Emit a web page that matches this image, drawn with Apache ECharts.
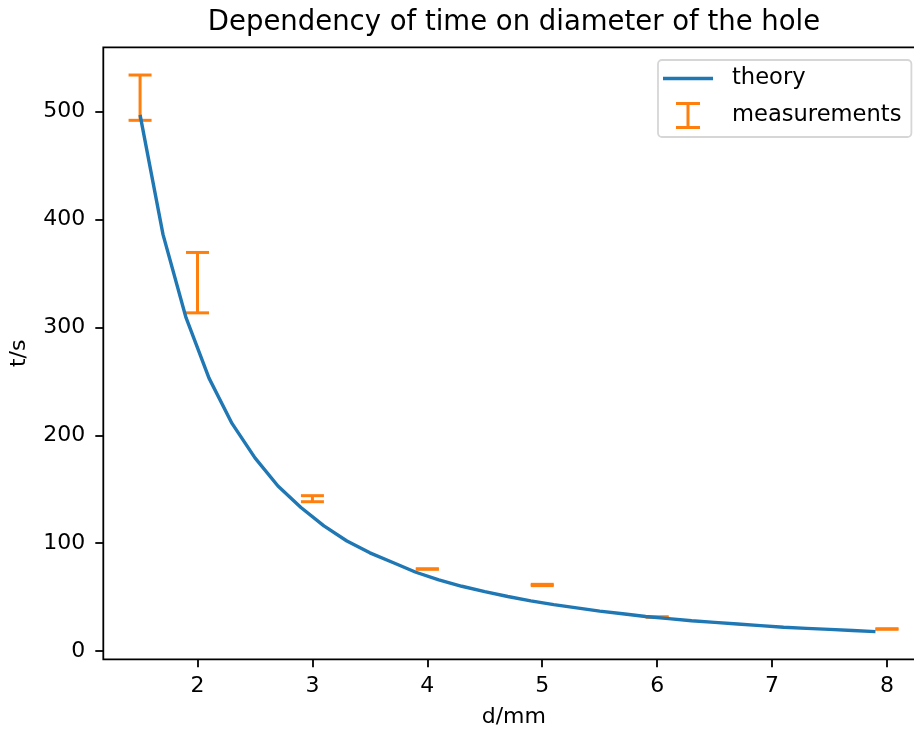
<!DOCTYPE html>
<html>
<head>
<meta charset="utf-8">
<script src="https://cdn.jsdelivr.net/npm/echarts@6/dist/echarts.min.js"></script>
<style>
  html, body { margin: 0; padding: 0; background: #fff; }
  #chart { width: 914px; height: 729px; }
</style>
</head>
<body>
<div id="chart"></div>
<script>
// theory curve, sampled every 0.2 mm
const theoryD = [1.5, 1.7, 1.9, 2.1, 2.3, 2.5, 2.7, 2.9, 3.1, 3.3, 3.5, 3.7, 3.9, 4.1, 4.3, 4.5, 4.7,
  4.9, 5.1, 5.3, 5.5, 5.7, 5.9, 6.1, 6.3, 6.5, 6.7, 6.9, 7.1, 7.3, 7.5, 7.7, 7.9];
const theoryT = [497, 386, 309, 253, 211, 179, 153, 133, 116, 102, 91, 82, 73, 66, 60, 55, 50.5,
  46.5, 43, 40, 37, 34.5, 32, 30, 28, 26.5, 25, 23.5, 22, 21, 20, 19, 18];

// measurements with error
const measD = [1.5, 2, 3, 4, 5, 6, 8];
const measT = [513, 341.5, 141.2, 76, 61.2, 31.5, 20.4];
const measErr = [21, 28, 2.8, 0.2, 0.6, 0.2, 0.2];

const xTicks = [2, 3, 4, 5, 6, 7, 8];
const yTicks = [0, 100, 200, 300, 400, 500];

const font = 'DejaVu Sans';
const blue = '#1f77b4';
const orange = '#ff7f0e';

let myChart = echarts.init(document.getElementById('chart'));

let option = {
    animation: false,
    backgroundColor: '#fff',
    title: {
        text: 'Dependency of time on diameter of the hole',
        left: 514,
        textAlign: 'center',
        top: 9,
        padding: 0,
        textStyle: { fontFamily: font, fontSize: 27.5, fontWeight: 'normal', color: '#000' }
    },
    legend: {
        orient: 'vertical',
        left: 658,
        top: 60,
        padding: [7, 10, 8, 5],
        itemWidth: 50,
        itemHeight: 27,
        itemGap: 12,
        backgroundColor: 'rgba(255,255,255,0.8)',
        borderColor: '#d6d6d6',
        borderWidth: 1.8,
        borderRadius: 4,
        textStyle: { fontFamily: font, fontSize: 22.6, color: '#000', padding: [0, 0, 0, 14] },
        data: [{
            name: 'theory',
            icon: 'path://M0,0H50V3.4H0Z',
            itemStyle: { color: blue }
        }, {
            name: 'measurements',
            icon: 'path://M0,0H24V3H0ZM10.5,0H13.5V27H10.5ZM0,24H24V27H0Z',
            itemStyle: { color: orange }
        }]
    },
    grid: {
        left: 103.3,
        top: 47.3,
        width: 821,
        bottom: 69.7,
        show: true,
        borderColor: '#000',
        borderWidth: 1.8,
        containLabel: false,
        outerBoundsMode: 'none'
    },
    xAxis: {
        type: 'value',
        min: 1.18,
        max: 8.325,
        name: 'd/mm',
        nameLocation: 'middle',
        nameGap: 47,
        nameTextStyle: { fontFamily: font, fontSize: 22, color: '#000' },
        axisLine: { show: false, onZero: false },
        axisTick: { show: true, length: 8, customValues: xTicks, lineStyle: { color: '#000', width: 1.8 } },
        axisLabel: { customValues: xTicks, margin: 16, fontFamily: font, fontSize: 22, color: '#000' },
        splitLine: { show: false }
    },
    yAxis: {
        type: 'value',
        min: -7.7,
        max: 559.7,
        name: 't/s',
        nameLocation: 'middle',
        nameGap: 73,
        nameTextStyle: { fontFamily: font, fontSize: 22, color: '#000' },
        axisLine: { show: false, onZero: false },
        axisTick: { show: true, length: 8, customValues: yTicks, lineStyle: { color: '#000', width: 1.8 } },
        axisLabel: { customValues: yTicks, margin: 18, fontFamily: font, fontSize: 22, color: '#000' },
        splitLine: { show: false }
    },
    series: [{
        name: 'measurements',
        type: 'custom',
        itemStyle: { color: orange },
        z: 2,
        encode: { x: 0, y: [2, 3] },
        data: measD.map((d, i) => [d, measT[i], measT[i] - measErr[i], measT[i] + measErr[i]]),
        renderItem: (params, api) => {
            const x = api.value(0);
            const lo = api.coord([x, api.value(2)]);
            const hi = api.coord([x, api.value(3)]);
            const hw = 11.5;
            const style = { stroke: orange, lineWidth: 3 };
            return {
                type: 'group',
                children: [
                    { type: 'line', shape: { x1: lo[0], y1: lo[1], x2: hi[0], y2: hi[1] }, style: style },
                    { type: 'line', shape: { x1: lo[0] - hw, y1: lo[1], x2: lo[0] + hw, y2: lo[1] }, style: style },
                    { type: 'line', shape: { x1: hi[0] - hw, y1: hi[1], x2: hi[0] + hw, y2: hi[1] }, style: style }
                ]
            };
        }
    }, {
        name: 'theory',
        type: 'line',
        z: 3,
        symbol: 'none',
        color: blue,
        lineStyle: { color: blue, width: 3.4 },
        data: theoryD.map((d, i) => [d, theoryT[i]])
    }]
};

myChart.setOption(option);
</script>
</body>
</html>
